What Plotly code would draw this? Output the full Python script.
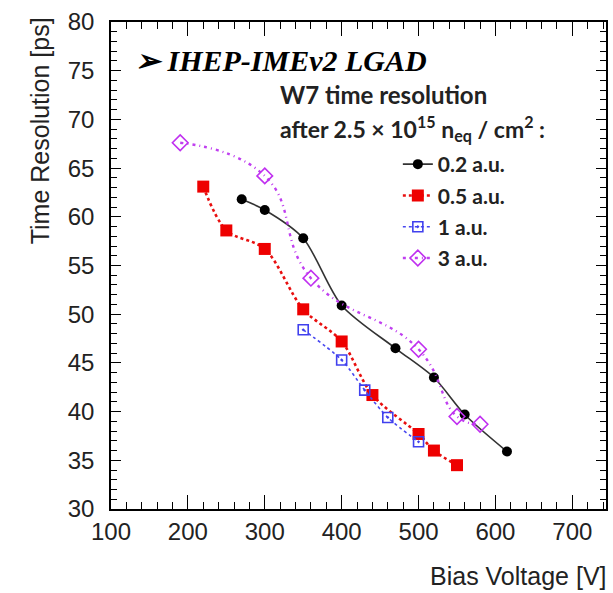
import plotly.graph_objects as go

# ---- data ----
v_02 = [270, 300, 350, 400, 470, 520, 560, 615]
t_02 = [61.8, 60.7, 57.8, 50.9, 46.5, 43.5, 39.7, 35.9]

v_05 = [220, 250, 300, 350, 400, 440, 500, 520, 550]
t_05 = [63.1, 58.6, 56.7, 50.5, 47.2, 41.7, 37.7, 36.0, 34.5]

v_1 = [350, 400, 430, 460, 500]
t_1 = [48.4, 45.3, 42.2, 39.4, 36.9]

v_3 = [190, 300, 360, 500, 550, 580]
t_3 = [67.6, 64.2, 53.7, 46.4, 39.5, 38.7]

labels = ["0.2 a.u.", "0.5 a.u.", "1 a.u.", "3 a.u."]

x_ticks = [100, 200, 300, 400, 500, 600, 700]
y_ticks = [30, 35, 40, 45, 50, 55, 60, 65, 70, 75, 80]

fig = go.Figure()

fig.add_trace(go.Scatter(
    x=v_02, y=t_02, name=labels[0], legendgroup="a",
    mode="lines+markers",
    line=dict(color="#333333", width=1.6, shape="spline", smoothing=0.8),
    marker=dict(symbol="circle", size=10, color="black"),
))
fig.add_trace(go.Scatter(
    x=v_05, y=t_05, name=labels[1], legendgroup="b",
    mode="lines+markers",
    line=dict(color="#e81010", width=2.6, dash="dot", shape="spline", smoothing=0.9),
    marker=dict(symbol="square", size=12, color="#ee0000"),
))
fig.add_trace(go.Scatter(
    x=v_1, y=t_1, name=labels[2], legendgroup="c",
    mode="lines+markers",
    line=dict(color="#4848f0", width=1.6, dash="dot", shape="spline", smoothing=0.8),
    marker=dict(symbol="square-open-dot", size=10, color="#4040ee",
                line=dict(width=1.6, color="#4040ee")),
))
fig.add_trace(go.Scatter(
    x=v_3, y=t_3, name=labels[3], legendgroup="d",
    mode="lines+markers",
    line=dict(color="#c040f0", width=2.4, dash="3px,4px,1px,4px",
              shape="spline", smoothing=1.3),
    marker=dict(symbol="diamond-open", size=12, color="#c030f0",
                line=dict(width=1.6, color="#c030f0")),
))

axis_common = dict(
    showgrid=False, zeroline=False, showline=True, linecolor="black",
    linewidth=1.5, mirror="allticks", ticks="inside", tickcolor="black",
    tickwidth=1.2,
    tickfont=dict(family="Liberation Sans, Arial", size=24, color="#222222"),
)

fig.update_xaxes(
    range=[100, 743.8], tickvals=x_ticks, ticklen=14,
    minor=dict(dtick=20, ticks="inside", ticklen=7, tickcolor="black", tickwidth=1.1),
    ticklabelstandoff=0,
    **axis_common,
)
fig.update_yaxes(
    range=[30, 80], tickvals=y_ticks, ticklen=10,
    minor=dict(dtick=1, ticks="inside", ticklen=6, tickcolor="black", tickwidth=1.1),
    ticklabelstandoff=10,
    **axis_common,
)

def px(xp):
    return (xp - 111) / 497.0

def py(yp):
    return (509 - yp) / 487.0

annotations = [
    dict(text="Time Resolution [ps]", x=px(40), y=py(131), textangle=-90,
         xanchor="center", yanchor="middle",
         font=dict(family="Liberation Sans, Arial", size=25, color="#222222")),
    dict(text="Bias Voltage [V]", x=px(611), y=py(576),
         xanchor="right", yanchor="middle",
         font=dict(family="Liberation Sans, Arial", size=25, color="#222222")),
    dict(text="<b><i>➢ IHEP-IMEv2 LGAD</i></b>", x=px(133), y=py(60),
         xanchor="left", yanchor="middle",
         font=dict(family="Liberation Serif, Times New Roman", size=30, color="black")),
    dict(text="<b>W7 time resolution</b>", x=px(279), y=py(95),
         xanchor="left", yanchor="middle",
         font=dict(family="Lato, Open Sans", size=24, color="#222222")),
    dict(text="<b>after 2.5 × 10<sup>15</sup> n<sub>eq</sub> / cm<sup>2</sup> :</b>",
         x=px(279), y=py(128), xanchor="left", yanchor="middle",
         font=dict(family="Lato, Open Sans", size=23, color="#222222")),
]
for a in annotations:
    a.update(xref="paper", yref="paper", showarrow=False)

fig.update_layout(
    width=613, height=593,
    margin=dict(l=111, r=5, t=22, b=84),
    paper_bgcolor="white", plot_bgcolor="white",
    annotations=annotations,
    showlegend=True,
    legend=dict(
        x=px(399), y=py(144), xanchor="left", yanchor="top",
        bgcolor="rgba(0,0,0,0)", borderwidth=0,
        font=dict(family="Lato, Open Sans", size=21, color="#222222", weight="bold"),
        tracegroupgap=1,
    ),
)

fig.write_html("out.html",
               config={"displayModeBar": False},
               post_script="document.body.style.margin='0';document.body.style.overflow='hidden';")
